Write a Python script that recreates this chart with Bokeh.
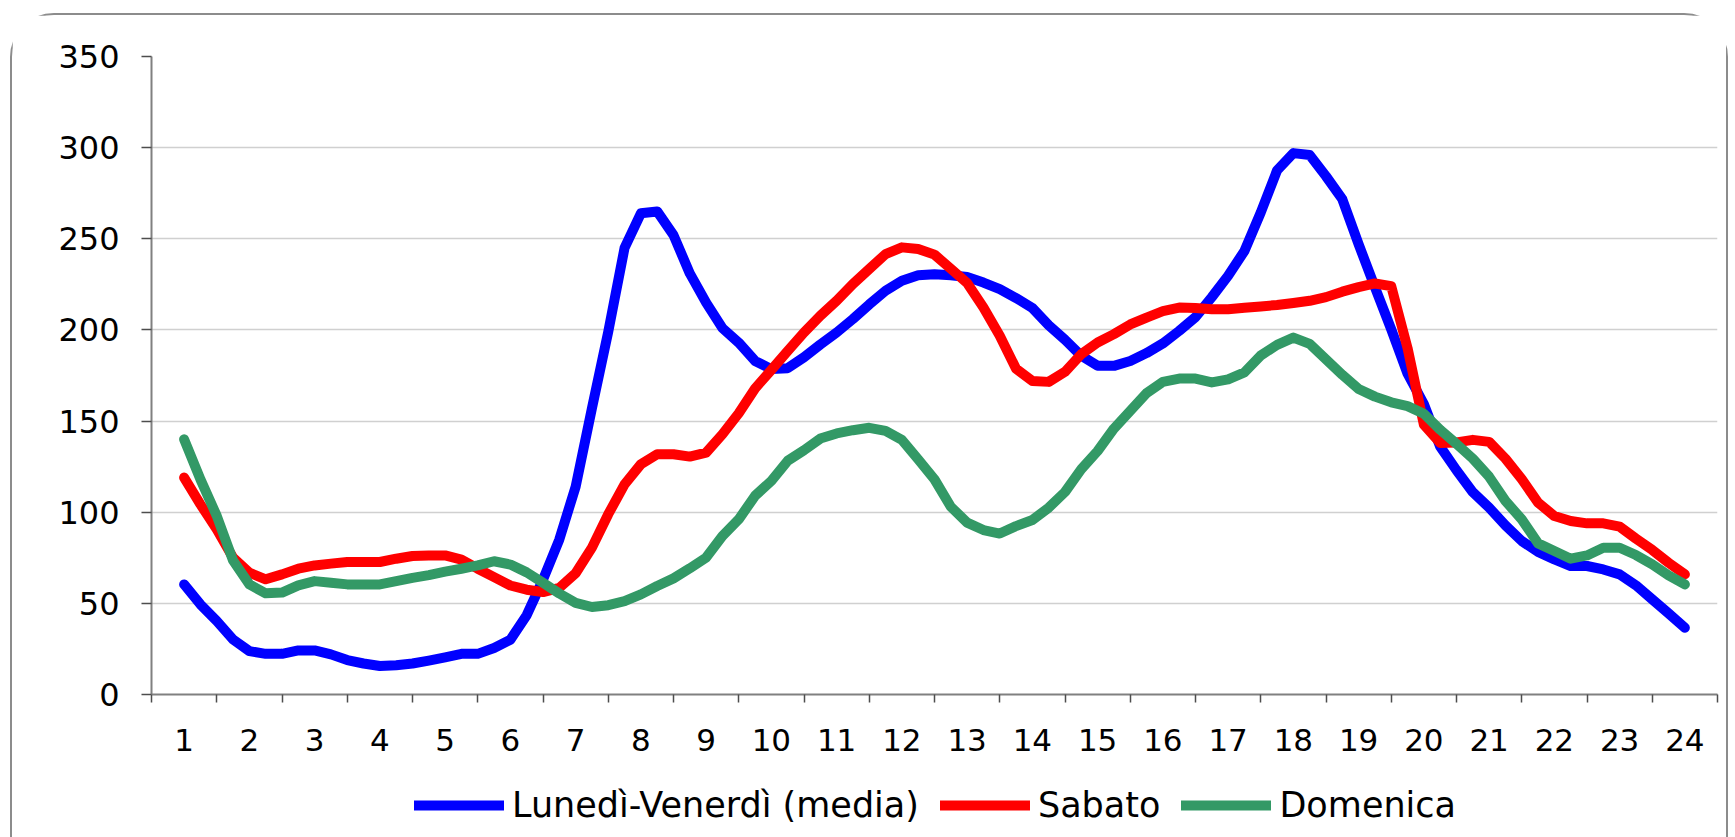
from bokeh.plotting import figure
from bokeh.layouts import column, row
from bokeh.models import Range1d, FixedTicker, Legend, LegendItem, Spacer
from bokeh.embed import file_html
from bokeh.resources import INLINE

# hour labels of the category axis
hour_labels = [str(h) for h in range(1, 25)]

# quarter-hour values, from hour 1 to hour 24
lun_ven = [60.4, 49.4, 40.3, 30.2, 23.8, 22.3, 22.3, 24.2, 24.2, 22.0, 18.9, 17.0,
           15.6, 16.1, 17.0, 18.6, 20.4, 22.3, 22.3, 25.5, 30.0, 43.5, 63.0, 85.0,
           114.0, 157.0, 199.0, 245.0, 264.0, 265.0, 252.0, 231.0, 215.0, 201.0, 193.0, 183.0,
           178.5, 179.0, 185.0, 192.0, 198.6, 206.0, 214.0, 221.5, 227.0, 230.0, 230.5, 230.0,
           229.0, 226.0, 222.4, 217.5, 212.0, 202.6, 194.6, 185.8, 180.3, 180.3, 183.0, 187.3,
           192.6, 199.5, 207.0, 218.0, 229.7, 243.3, 264.4, 287.5, 297.0, 296.0, 284.3, 271.7,
           247.0, 223.4, 200.3, 176.0, 159.3, 136.0, 123.0, 111.0, 102.5, 92.8, 84.2, 78.2,
           74.1, 70.5, 70.5, 68.6, 65.9, 59.9, 52.2, 44.5, 36.6]
sabato = [119.0, 104.3, 90.6, 75.0, 66.8, 63.2, 65.9, 69.0, 70.8, 71.8, 72.7, 72.7,
          72.7, 74.5, 76.0, 76.3, 76.3, 74.0, 69.0, 64.4, 59.8, 57.5, 56.2, 58.5,
          66.5, 80.6, 98.9, 115.3, 126.3, 131.8, 131.8, 130.5, 132.7, 142.8, 154.3, 167.9,
          178.1, 188.5, 198.6, 207.8, 216.0, 225.2, 233.4, 241.6, 245.3, 244.4, 241.3, 233.6,
          225.8, 212.3, 196.8, 178.7, 172.0, 171.5, 177.0, 186.7, 193.1, 197.7, 203.0, 206.8,
          210.3, 212.3, 212.0, 211.4, 211.4, 212.2, 212.9, 213.7, 214.8, 216.0, 218.0, 221.0,
          223.5, 225.5, 224.0, 190.0, 148.0, 138.0, 138.3, 139.7, 138.6, 129.4, 118.1, 105.3,
          97.9, 95.2, 93.9, 93.9, 92.1, 85.5, 79.3, 72.3, 65.9]
domenica = [140.0, 118.0, 98.0, 73.5, 60.4, 55.5, 55.9, 59.9, 62.2, 61.3, 60.4, 60.4,
            60.4, 62.2, 64.0, 65.5, 67.4, 69.0, 70.8, 73.1, 71.3, 67.0, 61.3, 55.4,
            50.3, 48.0, 49.0, 51.2, 54.9, 59.5, 63.7, 69.2, 75.1, 87.0, 96.1, 109.0,
            117.2, 128.2, 134.0, 140.4, 143.2, 145.0, 146.3, 144.6, 139.7, 129.0, 118.0, 103.0,
            94.3, 90.2, 88.3, 92.4, 95.7, 102.5, 111.1, 123.6, 133.6, 145.9, 155.6, 165.3,
            171.5, 173.3, 173.3, 171.2, 172.9, 176.7, 186.0, 191.8, 195.8, 192.3, 183.8, 175.4,
            167.6, 163.4, 160.3, 158.2, 154.0, 145.2, 137.5, 129.4, 119.5, 106.2, 96.1, 82.9,
            78.7, 74.5, 76.3, 80.5, 80.5, 76.5, 71.4, 65.3, 60.4]

series_names = ["Lunedì-Venerdì (media)", "Sabato", "Domenica"]
series_colors = ["#0000FF", "#FF0000", "#339966"]
series_values = [lun_ven, sabato, domenica]

# quarter-hour positions on the hour axis
x_pos = [1 + i / 4 for i in range(len(lun_ven))]

FONT = "DejaVu Sans"
W = 1714

p = figure(width=W, height=752, output_backend="svg", toolbar_location=None,
           x_range=Range1d(0.5, 24.5), y_range=Range1d(0, 350),
           min_border_left=139, min_border_right=9, min_border_top=41, min_border_bottom=73)
p.outline_line_color = None
p.background_fill_color = "white"
p.border_fill_color = "white"

for vals, col in zip(series_values, series_colors):
    p.line(x_pos, vals, line_color=col, line_width=10, line_cap="round", line_join="round")

# axes
p.xaxis.ticker = FixedTicker(ticks=list(range(1, 25)), minor_ticks=[h + 0.5 for h in range(0, 25)])
p.xaxis.major_label_overrides = {i + 1: lab for i, lab in enumerate(hour_labels)}
p.xaxis.major_tick_out = 0
p.xaxis.major_tick_in = 0
p.xaxis.major_tick_line_color = None
p.xaxis.minor_tick_out = 8
p.xaxis.minor_tick_in = 0
p.xaxis.minor_tick_line_color = "#4d4d4d"
p.xaxis.minor_tick_line_width = 1.5
p.xaxis.major_label_standoff = 26
p.xaxis.major_label_text_font = FONT
p.xaxis.major_label_text_font_size = "31px"
p.xaxis.major_label_text_color = "black"

p.yaxis.ticker = FixedTicker(ticks=[0, 50, 100, 150, 200, 250, 300, 350], minor_ticks=[])
p.yaxis.major_tick_out = 10
p.yaxis.major_tick_in = 0
p.yaxis.major_tick_line_color = "#4d4d4d"
p.yaxis.major_tick_line_width = 1.5
p.yaxis.minor_tick_line_color = None
p.yaxis.major_label_standoff = 22
p.yaxis.major_label_text_font = FONT
p.yaxis.major_label_text_font_size = "32px"
p.yaxis.major_label_text_color = "black"

for ax in (p.xaxis, p.yaxis):
    ax.axis_line_color = "#808080"
    ax.axis_line_width = 2

p.xgrid.grid_line_color = None
p.ygrid.ticker = FixedTicker(ticks=[50, 100, 150, 200, 250, 300, 350])
p.ygrid.grid_line_color = "#d0d0d0"
p.ygrid.grid_line_width = 1.5

# legend strip under the chart (its lines lie outside this strip's ranges)
q = figure(width=W, height=72, output_backend="svg", toolbar_location=None,
           x_range=Range1d(-2, -1), y_range=Range1d(-2, -1), min_border=0)
q.axis.visible = False
q.grid.visible = False
q.outline_line_color = None
q.background_fill_color = "white"
q.border_fill_color = "white"
keys = [q.line(x_pos, vals, line_color=c, line_width=10, line_cap="round")
        for vals, c in zip(series_values, series_colors)]
legend = Legend(items=[LegendItem(label=n, renderers=[k]) for n, k in zip(series_names, keys)],
                location=(263, 14), orientation="horizontal", padding=0, margin=0, spacing=21,
                border_line_color=None, background_fill_alpha=0,
                glyph_width=90, glyph_height=40, label_height=40, label_standoff=8,
                label_text_font=FONT, label_text_font_size="35px", label_text_color="black")
q.add_layout(legend, "center")

box = column(p, q, spacing=0)
box.styles = {"border": "2px solid #8c8c8c", "border-bottom": "none",
              "border-top-left-radius": "44px", "border-top-right-radius": "44px"}
page = column(Spacer(width=10, height=13), row(Spacer(width=10, height=10), box, spacing=0), spacing=0)

open("out.html", "w").write(file_html(page, INLINE))
